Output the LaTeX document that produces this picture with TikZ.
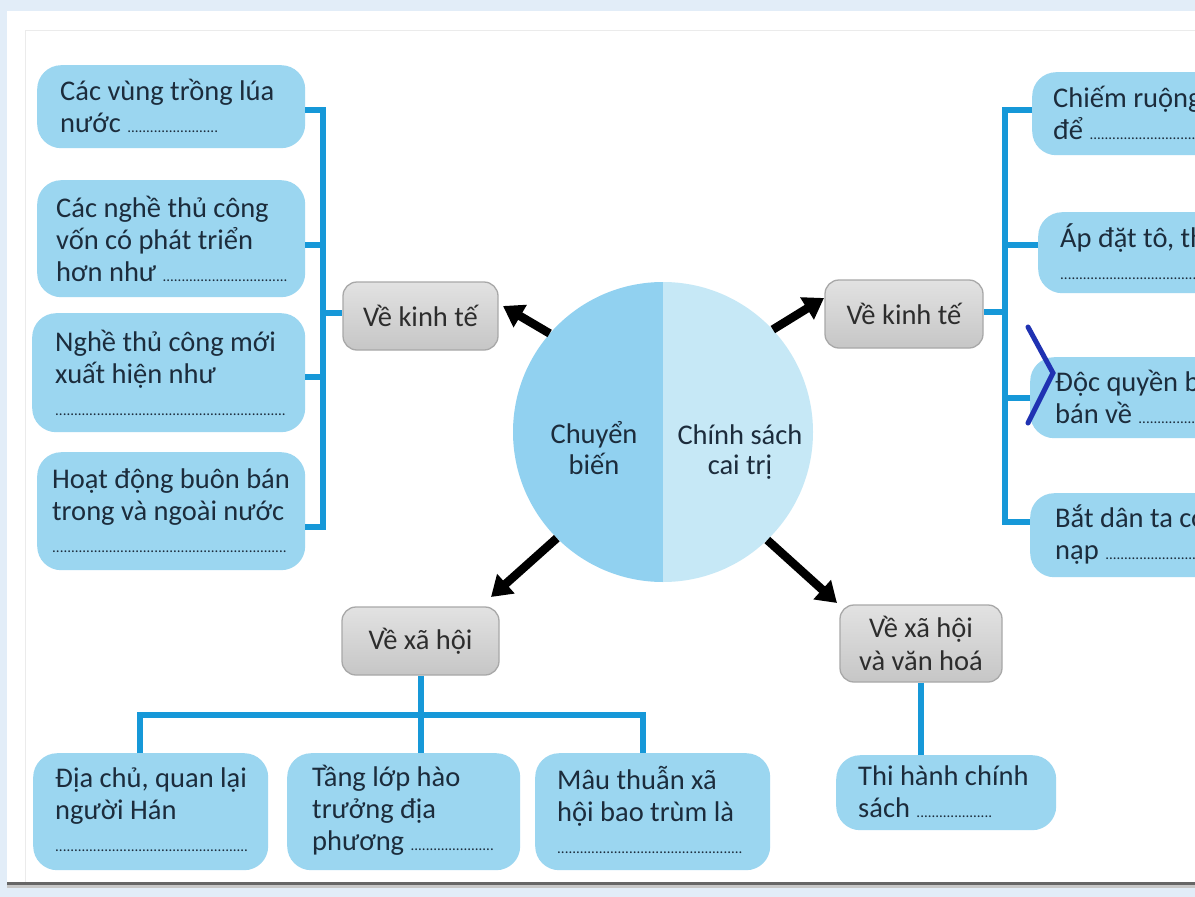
\documentclass[tikz,border=0pt]{standalone}
\usepackage{fontspec}
\setmainfont{Carlito}
\usetikzlibrary{arrows.meta}
\definecolor{pagebg}{RGB}{226,237,248}
\definecolor{boxblue}{RGB}{155,214,240}
\definecolor{circL}{RGB}{145,209,240}
\definecolor{circR}{RGB}{198,232,246}
\definecolor{lineblue}{RGB}{22,152,216}
\definecolor{txt}{RGB}{28,44,60}
\definecolor{gtxt}{RGB}{45,45,45}
\definecolor{gtop}{RGB}{226,226,226}
\definecolor{gbot}{RGB}{198,198,198}
\definecolor{gborder}{RGB}{168,168,168}
\definecolor{chev}{RGB}{32,50,178}
\newcount\dlcount
\newcommand\dl[1]{{\fontsize{15}{15}\selectfont\dlcount=0 \loop\ifnum\dlcount<#1 .\advance\dlcount by 1 \repeat}}
\newcommand\bodyfont{\fontsize{28.5}{32}\selectfont}
\begin{document}
\begin{tikzpicture}[x=1pt,y=-1pt,
  bshape/.style={fill=boxblue, rounded corners=24pt, anchor=north west, inner sep=0pt},
  btext/.style={anchor=west, align=left, inner sep=0pt, font=\bodyfont, text=txt},
  gbox/.style={draw=gborder, line width=1.3pt, top color=gtop, bottom color=gbot, rounded corners=14pt, align=center, inner sep=0pt, font=\bodyfont, text=gtxt},
  conn/.style={draw=lineblue, line width=6pt},
  arr/.style={draw=black, line width=8.5pt, -{Triangle[length=20pt,width=25pt]}},
  ctext/.style={align=center, inner sep=0pt, font=\fontsize{28.5}{30.5}\selectfont, text=txt}]
\useasboundingbox (0,0) rectangle (1195,897);
\clip (0,0) rectangle (1195,897);
% page and panel
\fill[pagebg] (0,0) rectangle (1195,897);
\fill[white] (7,11) rectangle (1195,884);
\draw[black!8, line width=1pt] (25,884) -- (25,30) -- (1195,30);
\fill[black!60] (7,881.5) rectangle (1195,884.5);
\fill[black!22] (7,884.5) rectangle (1195,887.5);

% centre circle
\node[circle, minimum size=300pt, inner sep=0pt] (c) at (663,432) {};
\begin{scope}
  \clip (c.center) circle (150pt);
  \fill[circL] (510,280) rectangle (663,585);
  \fill[circR] (663,280) rectangle (816,585);
\end{scope}
\node[ctext] (ct1) at (594,448) {Chuyển\\biến};
\node[ctext] (ct2) at (740,452) {Chính sách\\cai trị};

% grey boxes
\node[gbox, minimum width=155pt, minimum height=68pt] (kl) at (420.5,316) {Về kinh tế};
\node[gbox, minimum width=158pt, minimum height=68pt] (kr) at (904,314) {Về kinh tế};
\node[gbox, minimum width=157pt, minimum height=68pt] (xl) at (420.5,641) {Về xã hội};
\node[gbox, minimum width=162pt, minimum height=77pt, font=\fontsize{28.5}{33}\selectfont] (xr) at (921,643.5) {Về xã hội\\và văn hoá};

% arrows
\coordinate (t1) at (503,306);
\coordinate (t2) at (824,298);
\coordinate (t3) at (491,597);
\coordinate (t4) at (837,603);
\draw[arr] (c.139) -- (t1);
\draw[arr] (c.43) -- (t2);
\draw[arr] (c.225) -- (t3);
\draw[arr] (c.-46) -- (t4);

% left boxes
\node[bshape, minimum width=268pt, minimum height=83pt] (l1) at (37,65) {};
\node[btext] (l1t) at (60,106) {Các vùng trồng lúa\\nước \dl{24}};
\node[bshape, minimum width=268pt, minimum height=117pt] (l2) at (37,180) {};
\node[btext] (l2t) at (56,239) {Các nghề thủ công\\vốn có phát triển\\hơn như \dl{33}};
\node[bshape, minimum width=273pt, minimum height=119pt] (l3) at (32,313) {};
\node[btext] (l3t) at (55,373) {Nghề thủ công mới\\xuất hiện như\\\dl{61}};
\node[bshape, minimum width=268pt, minimum height=118pt] (l4) at (37,452) {};
\node[btext] (l4t) at (52,511) {Hoạt động buôn bán\\trong và ngoài nước\\\dl{62}};

% left bracket
\coordinate (lbt) at (323,110);
\coordinate (lb2) at (323,245);
\coordinate (lbk) at (323,313);
\coordinate (lb3) at (323,377);
\coordinate (lbb) at (323,527);
\draw[conn] (l1.east |- lbt) -- (lbt) -- (lbb) -- (l4.east |- lbb);
\draw[conn] (l2.east |- lb2) -- (lb2);
\draw[conn] (l3.east |- lb3) -- (lb3);
\draw[conn] (lbk) -- (kl.west |- lbk);

% right boxes
\node[bshape, minimum width=250pt, minimum height=83pt] (r1) at (1032,72) {};
\node[btext] (r1t) at (1053,113) {Chiếm ruộng\\để \dl{35}};
\node[bshape, minimum width=250pt, minimum height=81pt] (r2) at (1038,212) {};
\node[btext] (r2t) at (1060,252) {Áp đặt tô, th\\\dl{40}};
\node[bshape, minimum width=250pt, minimum height=81pt] (r3) at (1030,357) {};
\node[btext] (r3t) at (1055,397) {Độc quyền b\\bán về \dl{31}};
\node[bshape, minimum width=250pt, minimum height=84pt] (r4) at (1030,493) {};
\node[btext] (r4t) at (1055,535) {Bắt dân ta có\\nạp \dl{35}};

% right bracket
\coordinate (rbt) at (1005,110);
\coordinate (rb2) at (1005,245);
\coordinate (rbk) at (1005,312);
\coordinate (rb3) at (1005,398);
\coordinate (rbb) at (1005,522);
\draw[conn] (r1.west |- rbt) -- (rbt) -- (rbb) -- (r4.west |- rbb);
\draw[conn] (r2.west |- rb2) -- (rb2);
\draw[conn] (r3.west |- rb3) -- (rb3);
\draw[conn] (rbk) -- (kr.east |- rbk);

% chevron mark
\coordinate (ch1) at (1028,327);
\coordinate (ch2) at (1053,373);
\coordinate (ch3) at (1028,423);
\draw[chev, line width=5pt, line cap=round, line join=miter] (ch1) -- (ch2) -- (ch3);

% bottom boxes
\node[bshape, minimum width=235pt, minimum height=117pt] (b1) at (33,753) {};
\node[btext] (b1t) at (55,810) {Địa chủ, quan lại\\người Hán\\\dl{51}};
\node[bshape, minimum width=233pt, minimum height=117pt] (b2) at (287,753) {};
\node[btext] (b2t) at (312,810) {Tầng lớp hào\\trưởng địa\\phương \dl{22}};
\node[bshape, minimum width=235pt, minimum height=117pt] (b3) at (535,753) {};
\node[btext] (b3t) at (557,810) {Mâu thuẫn xã\\hội bao trùm là\\\dl{49}};
\node[bshape, minimum width=220pt, minimum height=75pt] (b4) at (836,755) {};
\node[btext] (b4t) at (858,792) {Thi hành chính\\sách \dl{20}};

% bottom bus
\coordinate (busL) at (140,715);
\coordinate (busM) at (420.5,715);
\coordinate (busR) at (643,715);
\draw[conn] (xl.south) -- (busM) -- (b2.north -| busM);
\draw[conn] (b1.north -| busL) -- (busL) -- (busR) -- (b3.north -| busR);
\draw[conn] (xr.south) -- (b4.north -| xr.south);
\end{tikzpicture}
\end{document}
